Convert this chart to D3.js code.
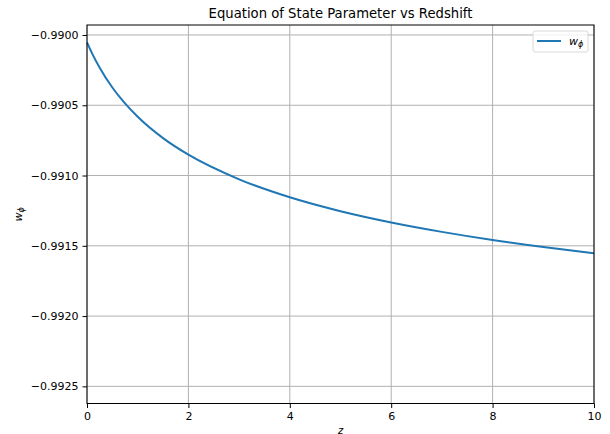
<!DOCTYPE html>
<html>
<head>
<meta charset="utf-8">
<script src="https://cdn.jsdelivr.net/npm/d3@7"></script>
<style>
  body { margin: 0; background: #fff; }
  svg text { font-family: "DejaVu Sans", sans-serif; }
</style>
</head>
<body>
<div id="chart"></div>
<script>
// redshift samples and w_phi values
var zVals = [0, 0.1, 0.25, 0.5, 0.75, 1, 1.5, 2, 3, 4, 5, 6, 7, 8, 9, 10];
var wVals = [-0.990053, -0.990131, -0.990233, -0.990374, -0.990487, -0.990582, -0.990734,
             -0.990852, -0.991027, -0.991155, -0.991254, -0.991334, -0.991401, -0.991459,
             -0.991509, -0.991553];
var xTicks = [0, 2, 4, 6, 8, 10];
var yTicks = [-0.9900, -0.9905, -0.9910, -0.9915, -0.9920, -0.9925];

var margin = {top: 25, right: 16, bottom: 30.5, left: 87},
    width = 610 - margin.left - margin.right,
    height = 434 - margin.top - margin.bottom;

var svg = d3.select("#chart")
  .append("svg")
    .attr("width", 610)
    .attr("height", 434);

var g = svg.append("g")
    .attr("transform", "translate(" + margin.left + "," + margin.top + ")");

var x = d3.scaleLinear().domain([0, 10]).range([0, width]);
var y = d3.scaleLinear().domain([-0.992622, -0.989929]).range([height, 0]);

// grid
g.append("g")
  .selectAll("line")
  .data(xTicks)
  .enter().append("line")
    .attr("x1", function(d) { return x(d); })
    .attr("x2", function(d) { return x(d); })
    .attr("y1", 0).attr("y2", height)
    .attr("stroke", "#b0b0b0").attr("stroke-width", 1);
g.append("g")
  .selectAll("line")
  .data(yTicks)
  .enter().append("line")
    .attr("x1", 0).attr("x2", width)
    .attr("y1", function(d) { return y(d); })
    .attr("y2", function(d) { return y(d); })
    .attr("stroke", "#b0b0b0").attr("stroke-width", 1);

// the curve
var pts = zVals.map(function(z, i) { return {z: z, w: wVals[i]}; });
g.append("path")
  .datum(pts)
  .attr("fill", "none")
  .attr("stroke", "#1f77b4")
  .attr("stroke-width", 2)
  .attr("d", d3.line()
    .curve(d3.curveMonotoneX)
    .x(function(d) { return x(d.z); })
    .y(function(d) { return y(d.w); }));

// axes
var xAxis = g.append("g")
  .attr("transform", "translate(0," + height + ")")
  .call(d3.axisBottom(x).tickValues(xTicks).tickSize(4.5).tickPadding(4).tickFormat(d3.format("d")));
var yAxis = g.append("g")
  .call(d3.axisLeft(y).tickValues(yTicks).tickSize(4.5).tickPadding(4).tickFormat(d3.format(".4f")));
[xAxis, yAxis].forEach(function(a) {
  a.select(".domain").remove();
  a.selectAll("text").attr("font-size", 11).attr("fill", "#000").attr("font-family", "DejaVu Sans");
  a.selectAll("line").attr("stroke", "#000");
});

// frame
g.append("rect")
  .attr("width", width).attr("height", height)
  .attr("fill", "none").attr("stroke", "#000").attr("stroke-width", 1);

// title and labels
svg.append("text")
  .attr("x", margin.left + width / 2).attr("y", 18)
  .attr("text-anchor", "middle").attr("font-size", 13.2)
  .text("Equation of State Parameter vs Redshift");

svg.append("text")
  .attr("x", margin.left + width / 2).attr("y", 433.5)
  .attr("text-anchor", "middle").attr("font-size", 10).attr("font-style", "italic")
  .text("z");

var yl = svg.append("text")
  .attr("transform", "translate(22," + (margin.top + height / 2) + ") rotate(-90)")
  .attr("text-anchor", "middle").attr("font-size", 11).attr("font-style", "italic");
yl.append("tspan").text("w");
yl.append("tspan").attr("font-size", 8).attr("dy", 2).text("ϕ");

// legend
var lg = svg.append("g").attr("transform", "translate(533,31)");
lg.append("rect")
  .attr("width", 55).attr("height", 21).attr("rx", 2)
  .attr("fill", "#fff").attr("fill-opacity", 0.8)
  .attr("stroke", "#d9d9d9").attr("stroke-width", 1);
lg.append("line")
  .attr("x1", 4).attr("x2", 28).attr("y1", 10).attr("y2", 10)
  .attr("stroke", "#1f77b4").attr("stroke-width", 2);
var lt = lg.append("text")
  .attr("x", 36).attr("y", 14)
  .attr("font-size", 11).attr("font-style", "italic");
lt.append("tspan").text("w");
lt.append("tspan").attr("font-size", 8).attr("dy", 2).text("ϕ");
</script>
</body>
</html>
